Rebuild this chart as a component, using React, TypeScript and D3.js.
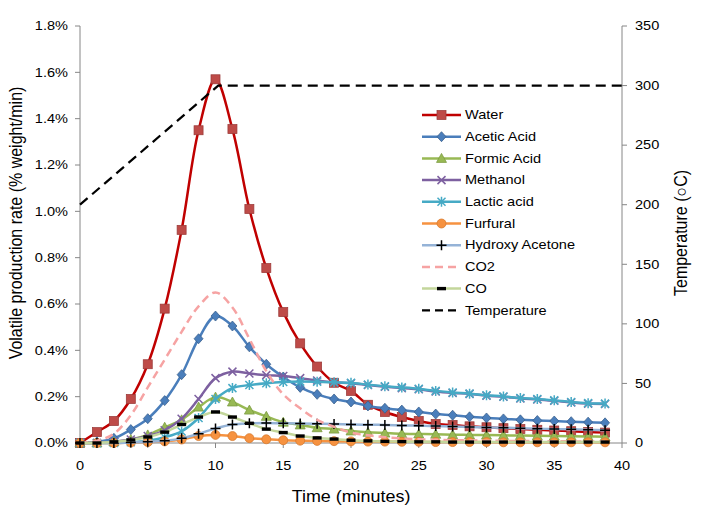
import React from "react";
import * as d3 from "d3";

const times = [0, 1.25, 2.5, 3.75, 5, 6.25, 7.5, 8.75, 10, 11.25, 12.5, 13.75, 15, 16.25, 17.5, 18.75, 20, 21.25, 22.5, 23.75, 25, 26.25, 27.5, 28.75, 30, 31.25, 32.5, 33.75, 35, 36.25, 37.5, 38.75];

const water = [0, 0.047, 0.095, 0.19, 0.34, 0.58, 0.92, 1.35, 1.57, 1.355, 1.01, 0.755, 0.565, 0.43, 0.33, 0.26, 0.225, 0.165, 0.134, 0.112, 0.095, 0.082, 0.078, 0.072, 0.068, 0.064, 0.06, 0.057, 0.054, 0.051, 0.048, 0.045];
const aceticAcid = [0, 0.005, 0.02, 0.058, 0.105, 0.183, 0.295, 0.45, 0.548, 0.505, 0.415, 0.34, 0.285, 0.24, 0.21, 0.19, 0.177, 0.16, 0.15, 0.142, 0.134, 0.125, 0.12, 0.113, 0.108, 0.104, 0.1, 0.097, 0.095, 0.092, 0.09, 0.087];
const formicAcid = [0, 0, 0.005, 0.015, 0.035, 0.068, 0.1, 0.155, 0.198, 0.177, 0.142, 0.115, 0.09, 0.078, 0.066, 0.06, 0.052, 0.046, 0.043, 0.04, 0.039, 0.038, 0.036, 0.035, 0.034, 0.033, 0.032, 0.031, 0.03, 0.029, 0.028, 0.027];
const methanol = [0, 0, 0.005, 0.015, 0.03, 0.055, 0.105, 0.19, 0.28, 0.308, 0.3, 0.293, 0.289, 0.28, 0.27, 0.262, 0.258, 0.25, 0.243, 0.237, 0.232, 0.222, 0.216, 0.212, 0.204, 0.2, 0.192, 0.188, 0.182, 0.175, 0.17, 0.168];
const lacticAcid = [0, 0, 0, 0.003, 0.01, 0.025, 0.05, 0.108, 0.19, 0.237, 0.25, 0.258, 0.263, 0.265, 0.264, 0.262, 0.26, 0.252, 0.245, 0.24, 0.234, 0.225, 0.218, 0.213, 0.206, 0.201, 0.194, 0.19, 0.184, 0.177, 0.172, 0.17];
const furfural = [0, 0, 0, 0.002, 0.004, 0.007, 0.015, 0.03, 0.035, 0.03, 0.021, 0.016, 0.012, 0.01, 0.009, 0.008, 0.007, 0.006, 0.006, 0.005, 0.005, 0.004, 0.004, 0.004, 0.004, 0.003, 0.003, 0.003, 0.003, 0.003, 0.003, 0.003];
const hydroxyAcetone = [0, 0, 0, 0.002, 0.005, 0.01, 0.02, 0.04, 0.063, 0.08, 0.085, 0.086, 0.085, 0.084, 0.083, 0.082, 0.08, 0.079, 0.078, 0.076, 0.075, 0.073, 0.071, 0.069, 0.067, 0.066, 0.064, 0.062, 0.06, 0.059, 0.057, 0.055];
const co2 = [0, 0.01, 0.04, 0.12, 0.24, 0.36, 0.48, 0.59, 0.65, 0.585, 0.45, 0.31, 0.21, 0.15, 0.1, 0.07, 0.045, 0.033, 0.025, 0.02, 0.016, 0.014, 0.012, 0.011, 0.01, 0.009, 0.009, 0.008, 0.008, 0.007, 0.007, 0.007];
const co = [0, 0, 0.005, 0.013, 0.026, 0.047, 0.08, 0.112, 0.134, 0.112, 0.085, 0.06, 0.045, 0.03, 0.022, 0.017, 0.012, 0.009, 0.007, 0.006, 0.005, 0.005, 0.004, 0.004, 0.004, 0.004, 0.004, 0.004, 0.004, 0.004, 0.004, 0.004];

const tempTimes = [0, 10.2, 40];
const temperature = [200, 300, 300];

const xTicks = [0, 5, 10, 15, 20, 25, 30, 35, 40];
const yTicks = [0, 0.2, 0.4, 0.6, 0.8, 1.0, 1.2, 1.4, 1.6, 1.8];
const tTicks = [0, 50, 100, 150, 200, 250, 300, 350];

type Series = { name: string; values: number[]; color: string; width: number; dash?: string; marker?: string; mFill?: string; mStroke?: string };

const series: Series[] = [
  { name: "Water", values: water, color: "#c00000", width: 2.5, marker: "square", mFill: "#be4b48", mStroke: "#9b3a38" },
  { name: "Acetic Acid", values: aceticAcid, color: "#4a7ebb", width: 2.5, marker: "diamond", mFill: "#4a7ebb", mStroke: "#385d8a" },
  { name: "Formic Acid", values: formicAcid, color: "#98b954", width: 2.5, marker: "triangle", mFill: "#98b954", mStroke: "#7a9a3f" },
  { name: "Methanol", values: methanol, color: "#7d60a0", width: 2.5, marker: "x", mFill: "none", mStroke: "#7d60a0" },
  { name: "Lactic acid", values: lacticAcid, color: "#46aac5", width: 2.5, marker: "star", mFill: "none", mStroke: "#46aac5" },
  { name: "Furfural", values: furfural, color: "#f69240", width: 2.5, marker: "circle", mFill: "#f69240", mStroke: "#d5782c" },
  { name: "Hydroxy Acetone", values: hydroxyAcetone, color: "#95b3d7", width: 2.5, marker: "plus", mFill: "none", mStroke: "#000000" },
  { name: "CO2", values: co2, color: "#f6a3a3", width: 2.5, dash: "8,5" },
  { name: "CO", values: co, color: "#c3d69b", width: 2.5, marker: "dash", mFill: "#000000", mStroke: "#000000" },
];

const W = 702, H = 512;
const L = 80, R = 622, T = 26, B = 443;
const SX = 1.12;
const FONT = "'Liberation Sans', Arial, sans-serif";
const AXIS = "#868686";

function Marker({ type, x, y, fill, stroke }: { type: string; x: number; y: number; fill: string; stroke: string }) {
  switch (type) {
    case "square":
      return <rect x={x - 4.5} y={y - 4.5} width={9} height={9} fill={fill} stroke={stroke} strokeWidth={0.75} />;
    case "diamond":
      return <path d={`M${x},${y - 5}L${x + 4.5},${y}L${x},${y + 5}L${x - 4.5},${y}Z`} fill={fill} stroke={stroke} strokeWidth={0.75} />;
    case "triangle":
      return <path d={`M${x},${y - 5}L${x + 5},${y + 4}L${x - 5},${y + 4}Z`} fill={fill} stroke={stroke} strokeWidth={0.75} />;
    case "x":
      return <path d={`M${x - 4},${y - 4}L${x + 4},${y + 4}M${x - 4},${y + 4}L${x + 4},${y - 4}`} stroke={stroke} strokeWidth={1.5} fill="none" />;
    case "star":
      return <path d={`M${x - 4},${y - 4}L${x + 4},${y + 4}M${x - 4},${y + 4}L${x + 4},${y - 4}M${x},${y - 5}L${x},${y + 5}`} stroke={stroke} strokeWidth={1.5} fill="none" />;
    case "circle":
      return <circle cx={x} cy={y} r={4.5} fill={fill} stroke={stroke} strokeWidth={0.75} />;
    case "plus":
      return <path d={`M${x - 5},${y}L${x + 5},${y}M${x},${y - 5}L${x},${y + 5}`} stroke={stroke} strokeWidth={1.5} fill="none" />;
    case "dash":
      return <rect x={x - 4.5} y={y - 1.7} width={9} height={3.4} fill={fill} />;
    default:
      return null;
  }
}

function Txt({ x, y, anchor, size, children, rotate }: { x: number; y: number; anchor: string; size: number; children: React.ReactNode; rotate?: number }) {
  return (
    <text
      transform={`translate(${x},${y}) scale(${SX},1)${rotate ? ` rotate(${rotate})` : ""}`}
      textAnchor={anchor}
      dominantBaseline="central"
      fontFamily={FONT}
      fontSize={size}
      fill="#000"
    >
      {children}
    </text>
  );
}

export default function App() {
  const x = d3.scaleLinear().domain([0, 40]).range([L, R]);
  const y = d3.scaleLinear().domain([0, 1.8]).range([B, T]);
  const yT = d3.scaleLinear().domain([0, 350]).range([B, T]);

  const line = d3
    .line<number>()
    .x((_, i) => x(times[i]))
    .y((v) => y(v))
    .curve(d3.curveCatmullRom.alpha(0.5));

  const tempLine = d3
    .line<number>()
    .x((_, i) => x(tempTimes[i]))
    .y((v) => yT(v));

  const legendX1 = 422, legendX2 = 461, legendY0 = 115, legendDY = 21.7;

  return (
    <div style={{ position: "absolute", left: 0, top: 0 }}>
      <svg width={W} height={H} style={{ display: "block", background: "#fff" }}>
        {/* axes */}
        <line x1={L} y1={T} x2={L} y2={B} stroke={AXIS} strokeWidth={1} />
        <line x1={R} y1={T} x2={R} y2={B} stroke={AXIS} strokeWidth={1} />
        <line x1={L} y1={B} x2={R} y2={B} stroke={AXIS} strokeWidth={1} />
        {yTicks.map((v) => (
          <g key={"yl" + v}>
            <line x1={L - 5} x2={L} y1={y(v)} y2={y(v)} stroke={AXIS} />
            <Txt x={68} y={y(v)} anchor="end" size={13}>{d3.format(".1f")(v) + "%"}</Txt>
          </g>
        ))}
        {tTicks.map((v) => (
          <g key={"yr" + v}>
            <line x1={R} x2={R + 5} y1={yT(v)} y2={yT(v)} stroke={AXIS} />
            <Txt x={635} y={yT(v)} anchor="start" size={13}>{String(v)}</Txt>
          </g>
        ))}
        {xTicks.map((v) => (
          <g key={"x" + v}>
            <line x1={x(v)} x2={x(v)} y1={B} y2={B + 5} stroke={AXIS} />
            <Txt x={x(v)} y={466} anchor="middle" size={13}>{String(v)}</Txt>
          </g>
        ))}
        <Txt x={351} y={497} anchor="middle" size={16}>Time (minutes)</Txt>
        <Txt x={16} y={223} anchor="middle" size={16} rotate={-90}>Volatile production rate (% weight/min)</Txt>
        <Txt x={681} y={233} anchor="middle" size={16} rotate={-90}>Temperature (○C)</Txt>

        {/* series */}
        {series.map((s) => (
          <g key={s.name}>
            <path d={line(s.values) || ""} fill="none" stroke={s.color} strokeWidth={s.width} strokeDasharray={s.dash} strokeLinejoin="round" />
            {s.marker &&
              s.values.map((v, i) => (
                <Marker key={i} type={s.marker!} x={x(times[i])} y={y(v)} fill={s.mFill!} stroke={s.mStroke!} />
              ))}
          </g>
        ))}
        <path d={tempLine(temperature) || ""} fill="none" stroke="#000" strokeWidth={2.25} strokeDasharray="10,6" />

        {/* legend */}
        {series.map((s, i) => {
          const ly = legendY0 + i * legendDY;
          return (
            <g key={"lg" + s.name}>
              <line x1={legendX1} x2={legendX2} y1={ly} y2={ly} stroke={s.color} strokeWidth={s.width} strokeDasharray={s.dash} />
              {s.marker && <Marker type={s.marker} x={(legendX1 + legendX2) / 2} y={ly} fill={s.mFill!} stroke={s.mStroke!} />}
              <Txt x={465} y={ly} anchor="start" size={13}>{s.name}</Txt>
            </g>
          );
        })}
        <g>
          <line x1={legendX1} x2={legendX2} y1={legendY0 + 9 * legendDY} y2={legendY0 + 9 * legendDY} stroke="#000" strokeWidth={2.25} strokeDasharray="8,5" />
          <Txt x={465} y={legendY0 + 9 * legendDY} anchor="start" size={13}>Temperature</Txt>
        </g>
      </svg>
    </div>
  );
}
